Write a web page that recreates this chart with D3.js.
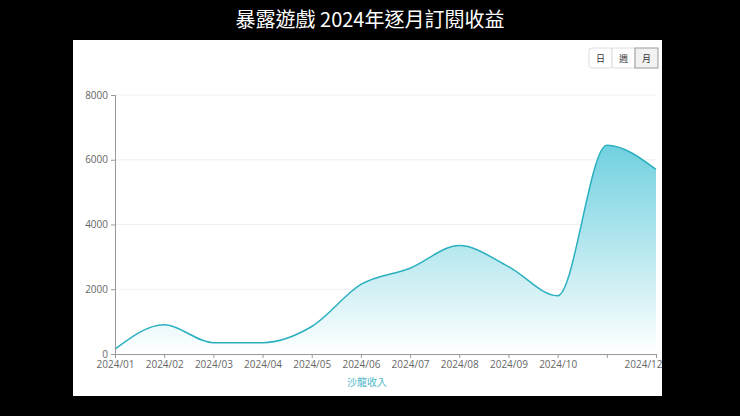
<!DOCTYPE html>
<html><head><meta charset="utf-8">
<script src="https://cdn.jsdelivr.net/npm/d3@7"></script>
<style>body{margin:0;background:#000;}svg{display:block;font-family:"Noto Sans CJK TC","Noto Sans",sans-serif;}</style>
</head><body><svg id="c" width="740" height="416"></svg>
<script>
const months = ['2024/01','2024/02','2024/03','2024/04','2024/05','2024/06','2024/07','2024/08','2024/09','2024/10','2024/11','2024/12'];
const revenue = [150, 900, 350, 350, 850, 2150, 2650, 3350, 2700, 1800, 6450, 5700];
const yTicks = [0, 2000, 4000, 6000, 8000];
const buttons = ['日', '週', '月'];

const svg = d3.select('#c');
svg.append('text').attr('x', 370).attr('y', 27).attr('text-anchor', 'middle')
  .attr('fill', '#fff').attr('font-size', 20).attr('font-weight', 400)
  .text('暴露遊戲 2024年逐月訂閱收益');
svg.append('rect').attr('x', 73).attr('y', 40).attr('width', 589).attr('height', 356).attr('fill', '#fff');

const x = d3.scalePoint().domain(months).range([115, 656]);
const y = d3.scaleLinear().domain([0, 8000]).range([354, 95]);

const defs = svg.append('defs');
const g = defs.append('linearGradient').attr('id', 'gr')
  .attr('gradientUnits', 'userSpaceOnUse').attr('x1', 0).attr('y1', y(6500)).attr('x2', 0).attr('y2', y(0));
g.append('stop').attr('offset', 0).attr('stop-color', '#6fd0df');
g.append('stop').attr('offset', 1).attr('stop-color', '#ffffff');

// grid
svg.append('g').selectAll('line').data(yTicks.slice(1)).join('line')
  .attr('x1', 115).attr('x2', 656).attr('y1', d => y(d)).attr('y2', d => y(d))
  .attr('stroke', '#f0f0f0');

const area = d3.area().x((d, i) => x(months[i])).y0(y(0)).y1(d => y(d)).curve(d3.curveMonotoneX);
const line = d3.line().x((d, i) => x(months[i])).y(d => y(d)).curve(d3.curveMonotoneX);
svg.append('path').datum(revenue).attr('d', area).attr('fill', 'url(#gr)');
svg.append('path').datum(revenue).attr('d', line).attr('fill', 'none').attr('stroke', '#2bb0c0').attr('stroke-width', 1.5);

const ya = svg.append('g').attr('transform', 'translate(115,0)')
  .call(d3.axisLeft(y).tickValues(yTicks).tickSize(4).tickFormat(d3.format('d')));
const xa = svg.append('g').attr('transform', `translate(0,${y(0)})`)
  .call(d3.axisBottom(x).tickSize(4).tickFormat(d => d === '2024/11' ? '' : d));
[ya, xa].forEach(a => {
  a.selectAll('path,line').attr('stroke', '#999');
  a.selectAll('text').attr('fill', '#666').attr('font-size', 10).attr('font-family', 'Open Sans, sans-serif');
});
xa.selectAll('text').attr('dy', '0.7em');
xa.selectAll('text').filter(d => d === '2024/12').attr('text-anchor', 'end').attr('dx', 6);

svg.append('text').attr('x', 367).attr('y', 386).attr('text-anchor', 'middle')
  .attr('fill', '#4cb8c8').attr('font-size', 10).text('沙龍收入');

const bg = svg.append('g');
buttons.forEach((b, i) => {
  const bx = 589 + i * 23;
  bg.append('rect').attr('x', bx).attr('y', 48).attr('width', 23).attr('height', 20)
    .attr('rx', i === 0 ? 3 : 0).attr('fill', i === 2 ? '#f2f2f2' : '#fff').attr('stroke', i === 2 ? '#999' : '#ddd');
  bg.append('text').attr('x', bx + 11.5).attr('y', 62).attr('text-anchor', 'middle')
    .attr('font-size', 9).attr('fill', '#333').text(b);
});
</script></body></html>
